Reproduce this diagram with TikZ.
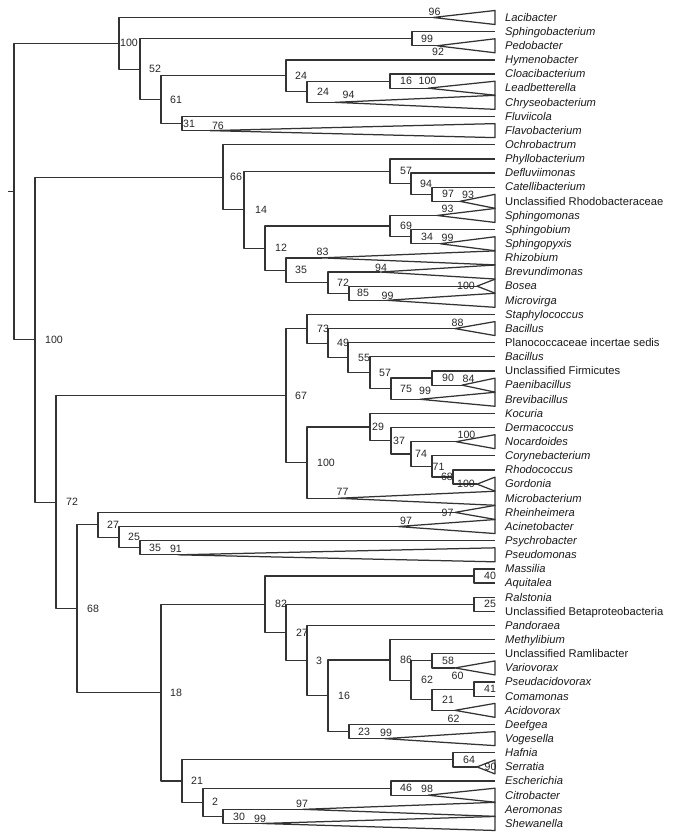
\documentclass[tikz,border=0pt]{standalone}
\usepackage{fontspec}
\setmainfont{Liberation Sans}
\usepackage{tikz}
\usetikzlibrary{calc}

\tikzset{
  branch/.style={line width=1.25pt, draw=black!80, line join=round},
  taxon/.style={anchor=base west, inner sep=0pt, yshift=-3.8pt, text=black!90,
    font=\fontsize{11.2}{13}\selectfont},
  bs/.style={inner sep=0pt, text=black!85, font=\fontsize{10.6}{12}\selectfont}
}

\begin{document}
\begin{tikzpicture}[x=1pt, y=-14.14pt]
  \useasboundingbox (0,-1.2376) rectangle (673,58.098);
  % Root
  \coordinate (R0) at (8,12.3085);
  \coordinate (R) at (14,12.3085);
  % Internal nodes: Bacteroidetes
  \coordinate (A1) at (119,1.8281);
  \coordinate (A2) at (140,3.6563);
  \coordinate (A3) at (412,1.5);
  \coordinate (A4) at (161,5.8125);
  \coordinate (A5) at (286,4.125);
  \coordinate (A6) at (307,5.25);
  \coordinate (A7) at (390,4.5);
  \coordinate (A8) at (182,7.5);
  % Internal nodes: Alphaproteobacteria
  \coordinate (B0) at (35,22.7888);
  \coordinate (C1) at (223,11.2969);
  \coordinate (C2) at (244,13.5938);
  \coordinate (C3) at (390,10.875);
  \coordinate (C4) at (411,11.75);
  \coordinate (C5) at (432,12.5);
  \coordinate (C6) at (265,16.3125);
  \coordinate (C7) at (390,14.75);
  \coordinate (C8) at (411,15.5);
  \coordinate (C9) at (286,17.875);
  \coordinate (C10) at (328,18.75);
  \coordinate (C11) at (349,19.5);
  % Internal nodes: Firmicutes and Actinobacteria
  \coordinate (D1) at (56,34.2808);
  \coordinate (F1) at (286,26.75);
  \coordinate (F2) at (307,22.0156);
  \coordinate (F3) at (328,23.0313);
  \coordinate (F4) at (348,24.0625);
  \coordinate (F5) at (370,25.125);
  \coordinate (F6) at (391,26.25);
  \coordinate (F7) at (432,25.5);
  \coordinate (K1) at (307,31.4844);
  \coordinate (K2) at (370,28.9688);
  \coordinate (K3) at (391,29.9375);
  \coordinate (K4) at (411,30.875);
  \coordinate (K5) at (432,31.75);
  \coordinate (K6) at (453,32.5);
  % Internal nodes: Gamma- and Betaproteobacteria
  \coordinate (G1) at (77,41.8115);
  \coordinate (G2) at (98,35.875);
  \coordinate (G3) at (119,36.75);
  \coordinate (G4) at (140,37.5);
  \coordinate (H1) at (161,47.748);
  \coordinate (H2) at (265,41.4961);
  \coordinate (H3) at (474,39.5);
  \coordinate (H4) at (286,43.4922);
  \coordinate (H5) at (474,41.5);
  \coordinate (H6) at (307,45.4844);
  \coordinate (H7) at (328,47.9688);
  \coordinate (H8) at (390,45.4375);
  \coordinate (H9) at (411,46.875);
  \coordinate (H10) at (432,45.5);
  \coordinate (H11) at (432,48.25);
  \coordinate (H12) at (349,50.5);
  \coordinate (H13) at (474,47.5);
  \coordinate (J1) at (182,54);
  \coordinate (J2) at (453,52.5);
  \coordinate (J3) at (203,55.5);
  \coordinate (J4) at (391,54.5);
  \coordinate (J5) at (223,56.5);
  % Single leaves
  \foreach \r/\n in {1/sphingobacterium, 3/hymenobacter, 4/cloacibacterium,
      7/fluviicola, 9/ochrobactrum, 10/phyllobacterium, 11/defluviimonas,
      12/catellibacterium, 15/sphingobium, 21/staphylococcus, 23/planococcaceae,
      24/bacillusB, 25/firmicutes, 28/kocuria, 29/dermacoccus, 31/corynebacterium,
      32/rhodococcus, 37/psychrobacter, 39/massilia, 40/aquitalea, 41/ralstonia,
      42/betaproteobacteria, 43/pandoraea, 44/methylibium, 45/ramlibacter,
      47/pseudacidovorax, 48/comamonas, 50/deefgea, 52/hafnia, 54/escherichia}
    \coordinate (\n) at (495,\r);
  % Collapsed clades (wedges)
  \foreach \r/\x/\n in {0/433/lacibacter, 2/437/pedobacter, 5/428/leadbetterella,
      6/335/chryseobacterium, 8/210/flavobacterium, 13/460/rhodobacteraceae,
      14/437/sphingomonas, 16/440/sphingopyxis, 17/322/rhizobium,
      18/380/brevundimonas, 19/477/bosea, 20/387/microvirga, 22/455/bacillusA,
      26/462/paenibacillus, 27/420/brevibacillus, 30/456/nocardoides,
      33/477/gordonia, 34/338/microbacterium, 35/455/rheinheimera,
      36/398/acinetobacter, 38/178/pseudomonas, 46/455/variovorax,
      49/455/acidovorax, 51/385/vogesella, 53/477/serratia, 55/428/citrobacter,
      56/303/aeromonas, 57/262/shewanella}
  {
    \coordinate (\n) at (\x,\r);
    \draw[branch] (\n) -- (495,\r-0.495) -- (495,\r+0.495) -- cycle;
  }
  % Branches
  \draw[branch] (R0) -- (R);
  \foreach \p/\c in {R/A1, R/B0,
      A1/lacibacter, A1/A2, A2/A3, A2/A4, A3/sphingobacterium, A3/pedobacter,
      A4/A5, A4/A8, A5/hymenobacter, A5/A6, A6/A7, A6/chryseobacterium,
      A7/cloacibacterium, A7/leadbetterella, A8/fluviicola, A8/flavobacterium,
      B0/C1, B0/D1, C1/ochrobactrum, C1/C2, C2/C3, C2/C6,
      C3/phyllobacterium, C3/C4, C4/defluviimonas, C4/C5,
      C5/catellibacterium, C5/rhodobacteraceae, C6/C7, C6/C9,
      C7/sphingomonas, C7/C8, C8/sphingobium, C8/sphingopyxis,
      C9/rhizobium, C9/C10, C10/brevundimonas, C10/C11, C11/bosea, C11/microvirga,
      D1/F1, D1/G1, F1/F2, F1/K1, F2/staphylococcus, F2/F3,
      F3/bacillusA, F3/F4, F4/planococcaceae, F4/F5, F5/bacillusB, F5/F6,
      F6/F7, F6/brevibacillus, F7/firmicutes, F7/paenibacillus,
      K1/K2, K1/microbacterium, K2/kocuria, K2/K3, K3/dermacoccus, K3/K4,
      K4/nocardoides, K4/K5, K5/corynebacterium, K5/K6, K6/rhodococcus, K6/gordonia,
      G1/G2, G1/H1, G2/rheinheimera, G2/G3, G3/acinetobacter, G3/G4,
      G4/psychrobacter, G4/pseudomonas,
      H1/H2, H1/J1, H2/H3, H2/H4, H3/massilia, H3/aquitalea, H4/H5, H4/H6,
      H5/ralstonia, H5/betaproteobacteria, H6/pandoraea, H6/H7, H7/H8, H7/H12,
      H8/methylibium, H8/H9, H9/H10, H9/H11, H10/ramlibacter, H10/variovorax,
      H11/H13, H11/acidovorax, H13/pseudacidovorax, H13/comamonas,
      H12/deefgea, H12/vogesella,
      J1/J2, J1/J3, J2/hafnia, J2/serratia, J3/J4, J3/J5,
      J4/escherichia, J4/citrobacter, J5/aeromonas, J5/shewanella}
    \draw[branch] (\p) |- (\c);
  % Bootstrap values at the nodes
  \foreach \p/\s/\v in {A1/1/100, A2/9/52, A3/9/99, A4/9/61, A5/9/24, A6/10/24,
      A7/10/16, A8/1/31, B0/10/100, C1/7/66, C2/11/14, C3/10/57, C4/9/94,
      C5/10/97, C6/10/12, C7/10/69, C8/10/34, C9/9/35, C10/9/72, C11/8/85,
      D1/10/72, F1/9/67, F2/10/73, F3/9/49, F4/10/55, F5/9/57, F6/9/75,
      F7/10/90, K1/10/100, K2/2/29, K3/2/37, K4/4/74, K5/0.5/71,
      G1/10/68, G2/9/27, G3/9/25, G4/9/35, H1/9/18, H2/10/82, H3/10/40,
      H4/10/27, H5/10/25, H6/9/3, H7/10/16, H8/10/86, H9/10/62, H10/10/58,
      H11/10/21, H13/10/41, H12/9/23, J1/9/21, J2/10/64, J3/9/2, J4/9/46,
      J5/10/30}
    \node[bs, anchor=west] (bs\p) at ([xshift=\s pt]\p) {\v};
  \node[bs, anchor=east] (bsK6) at (K6) {68};
  % Bootstrap values at the wedges
  \foreach \x/\r/\v [count=\i] in {434.5/-0.39/96, 438/2.44/92, 427.5/4.49/100,
      348.5/5.48/94, 218/7.65/76, 468/12.55/93, 447.5/13.54/93, 447.5/15.57/99,
      322.5/16.56/83, 381/17.71/94, 466/19/100, 387.5/19.7/99, 457.5/21.61/88,
      468.5/25.57/84, 425/26.39/99, 466.5/29.53/100, 466/33/100, 342.5/33.56/77,
      447.5/35/97, 406/35.59/97, 176/37.61/91, 457.5/46.57/60, 453.5/49.61/62,
      386/50.62/99, 490.5/53/90, 427/54.58/98, 302/55.62/97, 260/56.68/99}
    \node[bs] (wb\i) at (\x,\r) {\v};
  % Taxon names
  \foreach \r/\t in {0/Lacibacter, 1/Sphingobacterium, 2/Pedobacter,
      3/Hymenobacter, 4/Cloacibacterium, 5/Leadbetterella, 6/Chryseobacterium,
      7/Fluviicola, 8/Flavobacterium, 9/Ochrobactrum, 10/Phyllobacterium,
      11/Defluviimonas, 12/Catellibacterium, 14/Sphingomonas, 15/Sphingobium,
      16/Sphingopyxis, 17/Rhizobium, 18/Brevundimonas, 19/Bosea, 20/Microvirga,
      21/Staphylococcus, 22/Bacillus, 24/Bacillus, 26/Paenibacillus,
      27/Brevibacillus, 28/Kocuria, 29/Dermacoccus, 30/Nocardoides,
      31/Corynebacterium, 32/Rhodococcus, 33/Gordonia, 34/Microbacterium,
      35/Rheinheimera, 36/Acinetobacter, 37/Psychrobacter, 38/Pseudomonas,
      39/Massilia, 40/Aquitalea, 41/Ralstonia, 43/Pandoraea, 44/Methylibium,
      46/Variovorax, 47/Pseudacidovorax, 48/Comamonas, 49/Acidovorax,
      50/Deefgea, 51/Vogesella, 52/Hafnia, 53/Serratia, 54/Escherichia,
      55/Citrobacter, 56/Aeromonas, 57/Shewanella}
    \node[taxon] (t\r) at (505,\r) {\textit{\t}};
  \node[taxon] (t13) at (505,13) {Unclassified Rhodobacteraceae};
  \node[taxon] (t23) at (505,23) {Planococcaceae incertae sedis};
  \node[taxon] (t25) at (505,25) {Unclassified Firmicutes};
  \node[taxon] (t42) at (505,42) {Unclassified Betaproteobacteria};
  \node[taxon] (t45) at (505,45) {Unclassified Ramlibacter};
\end{tikzpicture}
\end{document}
